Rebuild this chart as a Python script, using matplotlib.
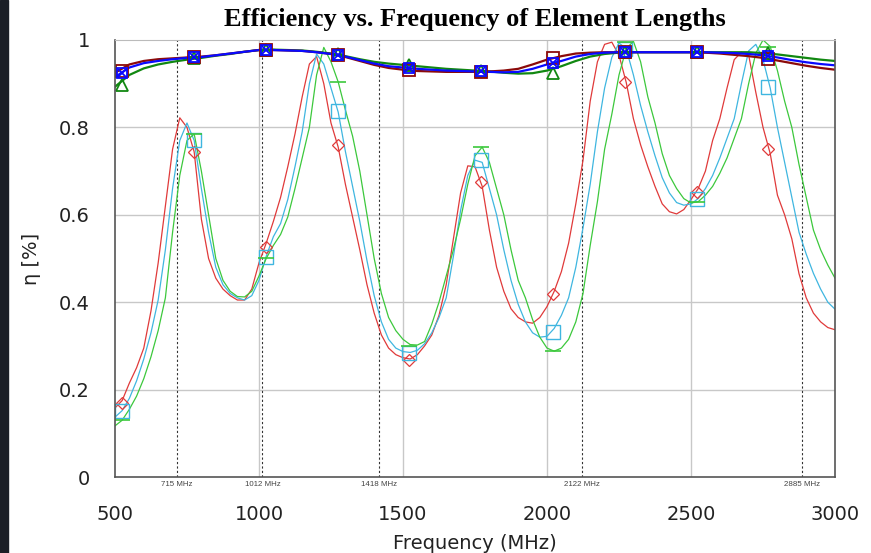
import numpy as np
import matplotlib.pyplot as plt
from matplotlib.patches import Rectangle

# frequency grids (MHz)
freq_low = np.arange(500, 3001, 25)
freq_top = np.arange(500, 3001, 50)

# efficiency curves (lower group, thin lines)
eff_red = [0.158, 0.175, 0.215, 0.25, 0.295, 0.38, 0.49, 0.62, 0.75, 0.822,
           0.80, 0.744, 0.59, 0.50, 0.455, 0.43, 0.415, 0.405, 0.405, 0.43,
           0.49, 0.535, 0.585, 0.64, 0.71, 0.785, 0.87, 0.945, 0.962, 0.90,
           0.81, 0.755, 0.67, 0.595, 0.52, 0.44, 0.375, 0.325, 0.295, 0.28,
           0.273, 0.27, 0.28, 0.30, 0.325, 0.37, 0.44, 0.545, 0.65, 0.712,
           0.71, 0.665, 0.565, 0.48, 0.425, 0.385, 0.365, 0.355, 0.352, 0.365,
           0.39, 0.425, 0.47, 0.535, 0.625, 0.725, 0.86, 0.95, 0.99, 0.995,
           0.965, 0.903, 0.82, 0.76, 0.71, 0.665, 0.625, 0.607, 0.602, 0.612,
           0.635, 0.66, 0.70, 0.77, 0.82, 0.89, 0.955, 0.972, 0.966, 0.88,
           0.80, 0.74, 0.645, 0.60, 0.545, 0.465, 0.41, 0.375, 0.355, 0.342,
           0.337]
eff_cyan = [0.137, 0.152, 0.18, 0.22, 0.27, 0.33, 0.405, 0.52, 0.66, 0.77,
            0.81, 0.77, 0.66, 0.56, 0.48, 0.44, 0.42, 0.41, 0.405, 0.415,
            0.45, 0.505, 0.55, 0.58, 0.635, 0.71, 0.79, 0.90, 0.968, 0.945,
            0.89, 0.835, 0.745, 0.665, 0.585, 0.495, 0.415, 0.355, 0.315, 0.295,
            0.287, 0.285, 0.29, 0.305, 0.33, 0.365, 0.41, 0.505, 0.61, 0.69,
            0.725, 0.72, 0.66, 0.60, 0.52, 0.45, 0.395, 0.355, 0.33, 0.32,
            0.322, 0.34, 0.37, 0.41, 0.48, 0.57, 0.67, 0.79, 0.89, 0.96,
            0.993, 0.98, 0.92, 0.85, 0.79, 0.735, 0.685, 0.65, 0.628, 0.622,
            0.625, 0.637, 0.66, 0.69, 0.73, 0.775, 0.82, 0.90, 0.975, 0.99,
            0.955, 0.89, 0.80, 0.72, 0.64, 0.56, 0.51, 0.466, 0.43, 0.40,
            0.384]
eff_green = [0.117, 0.13, 0.155, 0.185, 0.225, 0.275, 0.335, 0.41, 0.56, 0.69,
             0.77, 0.785, 0.70, 0.60, 0.50, 0.45, 0.425, 0.413, 0.412, 0.425,
             0.46, 0.50, 0.53, 0.555, 0.595, 0.66, 0.73, 0.80, 0.92, 0.983,
             0.95, 0.904, 0.84, 0.78, 0.70, 0.60, 0.50, 0.42, 0.365, 0.335,
             0.315, 0.303, 0.302, 0.31, 0.35, 0.40, 0.46, 0.52, 0.59, 0.67,
             0.735, 0.755, 0.72, 0.66, 0.60, 0.52, 0.45, 0.41, 0.36, 0.32,
             0.295, 0.288, 0.295, 0.315, 0.355, 0.42, 0.53, 0.63, 0.75, 0.83,
             0.92, 0.98, 0.997, 0.95, 0.87, 0.81, 0.74, 0.69, 0.66, 0.637,
             0.627, 0.63, 0.645, 0.665, 0.695, 0.73, 0.775, 0.82, 0.90, 0.97,
             1.0, 0.985, 0.93, 0.86, 0.80, 0.715, 0.64, 0.565, 0.52, 0.485,
             0.455]

# upper group (thick lines)
top_red = [0.925, 0.944, 0.952, 0.956, 0.958, 0.96, 0.962, 0.965, 0.969, 0.973,
           0.977, 0.977, 0.976, 0.975, 0.972, 0.968, 0.961, 0.952, 0.943, 0.936,
           0.932, 0.929, 0.928, 0.927, 0.927, 0.927, 0.928, 0.93, 0.934, 0.944,
           0.955, 0.963, 0.969, 0.971, 0.972, 0.972, 0.972, 0.972, 0.972, 0.972,
           0.972, 0.971, 0.969, 0.966, 0.963, 0.959, 0.953, 0.947, 0.941, 0.936,
           0.932]
top_blue = [0.915, 0.937, 0.947, 0.952, 0.956, 0.959, 0.961, 0.965, 0.969, 0.973,
            0.977, 0.977, 0.976, 0.975, 0.972, 0.968, 0.962, 0.954, 0.946, 0.94,
            0.937, 0.934, 0.932, 0.93, 0.929, 0.928, 0.927, 0.926, 0.927, 0.934,
            0.944, 0.952, 0.962, 0.968, 0.971, 0.972, 0.972, 0.972, 0.972, 0.972,
            0.972, 0.972, 0.971, 0.970, 0.968, 0.965, 0.96, 0.954, 0.949, 0.945,
            0.942]
top_green = [0.893, 0.92, 0.935, 0.944, 0.95, 0.955, 0.959, 0.964, 0.968, 0.973,
             0.977, 0.978, 0.977, 0.976, 0.973, 0.969, 0.963, 0.956, 0.95, 0.946,
             0.943, 0.94, 0.937, 0.934, 0.932, 0.93, 0.928, 0.925, 0.923, 0.924,
             0.93, 0.94, 0.952, 0.962, 0.968, 0.971, 0.972, 0.972, 0.972, 0.972,
             0.972, 0.972, 0.972, 0.972, 0.972, 0.97, 0.967, 0.963, 0.959, 0.955,
             0.952]

# marker samples
mk_freq = [524, 774, 1024, 1274, 1521, 1771, 2021, 2271, 2521, 2769]
mk_top_red = [0.93, 0.961, 0.977, 0.966, 0.932, 0.927, 0.958, 0.972, 0.972, 0.956]
mk_top_blue = [0.924, 0.960, 0.977, 0.966, 0.937, 0.928, 0.947, 0.972, 0.972, 0.963]
mk_top_green = [0.897, 0.958, 0.977, 0.967, 0.943, 0.930, 0.924, 0.972, 0.972, 0.97]
mk_red = [0.17, 0.744, 0.527, 0.76, 0.268, 0.675, 0.419, 0.904, 0.653, 0.75]
mk_cyan = [0.15, 0.771, 0.503, 0.837, 0.284, 0.725, 0.332, 0.98, 0.637, 0.893]
mk_green = [0.13, 0.785, 0.50, 0.904, 0.30, 0.755, 0.288, 0.995, 0.63, 0.985]

# band edges
band_freq = [715, 1012, 1418, 2122, 2885]
band_labels = ['715 MHz', '1012 MHz', '1418 MHz', '2122 MHz', '2885 MHz']

fig = plt.figure(figsize=(8.71, 5.53), dpi=100)
fig.patches.append(Rectangle((0, 0), 8 / 871, 1, transform=fig.transFigure,
                             color='#1b1f26', zorder=0))
ax = fig.add_axes([0.132, 0.1374, 0.8267, 0.7903])

for f in [1000, 1500, 2000, 2500]:
    ax.axvline(f, color='#c8c8c8', lw=1, zorder=0)
for v in [0.2, 0.4, 0.6, 0.8]:
    ax.axhline(v, color='#c8c8c8', lw=1, zorder=0)
for f, lab in zip(band_freq, band_labels):
    ax.axvline(f, color='#333333', lw=0.8, dashes=(2, 2), zorder=1)
    ax.text(f, -0.018, lab, ha='center', va='center', fontsize=5.7,
            color='#444444', family='Liberation Sans')

ax.plot(freq_low, eff_red, color='#e03a3a', lw=0.9)
ax.plot(freq_low, eff_cyan, color='#3fb6e0', lw=0.9)
ax.plot(freq_low, eff_green, color='#3cc83c', lw=0.9)
ax.plot(mk_freq, mk_red, ls='none', marker='D', ms=6.5, mfc='none', mec='#e03a3a', mew=0.9)
ax.plot(mk_freq, mk_cyan, ls='none', marker='s', ms=10, mfc='none', mec='#3fb6e0', mew=1)
ax.plot(mk_freq, mk_green, ls='none', marker='_', ms=11, mec='#3cc83c', mew=1.2)

ax.plot(freq_top, top_green, color='#118811', lw=1.6)
ax.plot(freq_top, top_red, color='#8b0a0a', lw=1.6)
ax.plot(freq_top, top_blue, color='#0a0aff', lw=1.6)
ax.plot(mk_freq, mk_top_green, ls='none', marker='^', ms=8, mfc='none', mec='#118811', mew=1.3)
ax.plot(mk_freq, mk_top_red, ls='none', marker='s', ms=9, mfc='none', mec='#8b0a0a', mew=1.3)
ax.plot(mk_freq, mk_top_blue, ls='none', marker='s', ms=7, mfc='none', mec='#0a0aff', mew=1.3)
ax.plot(mk_freq, mk_top_blue, ls='none', marker='x', ms=6, mec='#0a0aff', mew=1.3)

ax.set_xlim(500, 3000)
ax.set_ylim(0, 1)
ax.set_xticks([500, 1000, 1500, 2000, 2500, 3000])
ax.set_yticks([0, 0.2, 0.4, 0.6, 0.8, 1])
ax.set_yticklabels(['0', '0.2', '0.4', '0.6', '0.8', '1'])
ax.tick_params(axis='both', length=0, labelsize=14, colors='#222222')
ax.tick_params(axis='y', pad=18)
ax.tick_params(axis='x', pad=20)

for side in ['left', 'bottom', 'right']:
    ax.spines[side].set_color('#555555')
    ax.spines[side].set_linewidth(1.2)
ax.spines['top'].set_color('#bbbbbb')

ax.set_xlabel('Frequency (MHz)', fontsize=14, color='#222222', labelpad=7)
ax.set_ylabel('η [%]', fontsize=14, color='#222222', labelpad=13)
fig.text(0.545, 0.965, 'Efficiency vs. Frequency of Element Lengths', ha='center', va='center',
         fontsize=19, fontweight='bold', family='Liberation Serif')

fig.savefig('out.png', dpi=100)
